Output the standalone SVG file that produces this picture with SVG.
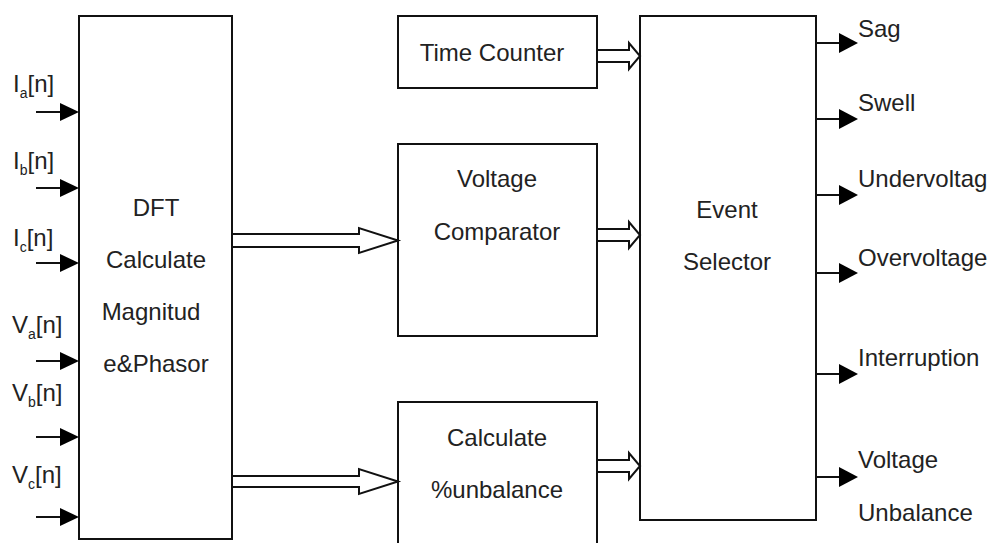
<svg xmlns="http://www.w3.org/2000/svg" width="993" height="543" viewBox="0 0 993 543">
  <defs>
    <style>
      .box { fill: #ffffff; stroke: #111111; stroke-width: 2; }
      .wire { fill: none; stroke: #111111; stroke-width: 2; }
      .head { fill: #000000; stroke: none; }
      .bus { fill: #ffffff; stroke: #111111; stroke-width: 2; stroke-linejoin: miter; }
      text { font-family: "Liberation Sans", Arial, sans-serif; font-size: 24px; fill: #222222; }
      .mid { text-anchor: middle; }
      .sub { font-size: 14px; }
    </style>
  </defs>

  <rect width="993" height="543" fill="#ffffff"/>

  <!-- processing blocks -->
  <g id="dft">
    <rect class="box" x="79" y="16" width="153" height="523"/>
    <text class="mid" x="156" y="216">DFT</text>
    <text class="mid" x="156" y="268">Calculate</text>
    <text class="mid" x="151" y="320">Magnitud</text>
    <text class="mid" x="156" y="372">e&amp;Phasor</text>
  </g>

  <g id="time-counter">
    <rect class="box" x="398" y="16" width="199" height="72"/>
    <text class="mid" x="492" y="61">Time Counter</text>
  </g>

  <g id="voltage-comparator">
    <rect class="box" x="398" y="144" width="199" height="192"/>
    <text class="mid" x="497" y="187">Voltage</text>
    <text class="mid" x="497" y="240">Comparator</text>
  </g>

  <g id="unbalance">
    <rect class="box" x="398" y="402" width="199" height="160"/>
    <text class="mid" x="497" y="446">Calculate</text>
    <text class="mid" x="497" y="498">%unbalance</text>
  </g>

  <g id="event-selector">
    <rect class="box" x="640" y="16" width="176" height="504"/>
    <text class="mid" x="727" y="218">Event</text>
    <text class="mid" x="727" y="270">Selector</text>
  </g>

  <!-- signal inputs -->
  <g id="inputs">
    <text x="13" y="92">I<tspan class="sub" dy="6">a</tspan><tspan dy="-6">[n]</tspan></text>
    <text x="13" y="169">I<tspan class="sub" dy="6">b</tspan><tspan dy="-6">[n]</tspan></text>
    <text x="13" y="246">I<tspan class="sub" dy="6">c</tspan><tspan dy="-6">[n]</tspan></text>
    <text x="12" y="333">V<tspan class="sub" dy="6">a</tspan><tspan dy="-6">[n]</tspan></text>
    <text x="12" y="401">V<tspan class="sub" dy="6">b</tspan><tspan dy="-6">[n]</tspan></text>
    <text x="12" y="483">V<tspan class="sub" dy="6">c</tspan><tspan dy="-6">[n]</tspan></text>
  </g>

  <!-- event outputs -->
  <g id="outputs">
    <text x="858" y="37">Sag</text>
    <text x="858" y="111">Swell</text>
    <text x="858" y="187">Undervoltag</text>
    <text x="858" y="266">Overvoltage</text>
    <text x="858" y="366">Interruption</text>
    <text x="858" y="468">Voltage</text>
    <text x="858" y="521">Unbalance</text>
  </g>

  <g id="connectors">
    <!-- input signal arrows -->
    <g>
      <line class="wire" x1="36" y1="112" x2="62" y2="112"/>
      <polygon class="head" points="60,103 79,112 60,121"/>
      <line class="wire" x1="36" y1="188" x2="62" y2="188"/>
      <polygon class="head" points="60,179 79,188 60,197"/>
      <line class="wire" x1="36" y1="263" x2="62" y2="263"/>
      <polygon class="head" points="60,254 79,263 60,272"/>
      <line class="wire" x1="36" y1="361" x2="62" y2="361"/>
      <polygon class="head" points="60,352 79,361 60,370"/>
      <line class="wire" x1="36" y1="437" x2="62" y2="437"/>
      <polygon class="head" points="60,428 79,437 60,446"/>
      <line class="wire" x1="36" y1="517" x2="62" y2="517"/>
      <polygon class="head" points="60,508 79,517 60,526"/>
    </g>

    <!-- output event arrows -->
    <g>
      <line class="wire" x1="816" y1="43" x2="841" y2="43"/>
      <polygon class="head" points="839,33 858,43 839,53"/>
      <line class="wire" x1="816" y1="119" x2="841" y2="119"/>
      <polygon class="head" points="839,109 858,119 839,129"/>
      <line class="wire" x1="816" y1="195" x2="841" y2="195"/>
      <polygon class="head" points="839,185 858,195 839,205"/>
      <line class="wire" x1="816" y1="273" x2="841" y2="273"/>
      <polygon class="head" points="839,263 858,273 839,283"/>
      <line class="wire" x1="816" y1="374" x2="841" y2="374"/>
      <polygon class="head" points="839,364 858,374 839,384"/>
      <line class="wire" x1="816" y1="477" x2="841" y2="477"/>
      <polygon class="head" points="839,467 858,477 839,487"/>
    </g>

    <!-- hollow data-bus arrows -->
    <polygon class="bus" points="232,234 359,234 359,228 398,240.5 359,253 359,247 232,247"/>
    <polygon class="bus" points="232,476 359,476 359,469 398,481.5 359,494 359,487 232,487"/>
    <polygon class="bus" points="597,50 629,50 629,43 640,56 629,69 629,62 597,62"/>
    <polygon class="bus" points="597,229 629,229 629,222 640,235 629,248 629,241 597,241"/>
    <polygon class="bus" points="597,460 629,460 629,453 640,466 629,479 629,472 597,472"/>
  </g>
</svg>
